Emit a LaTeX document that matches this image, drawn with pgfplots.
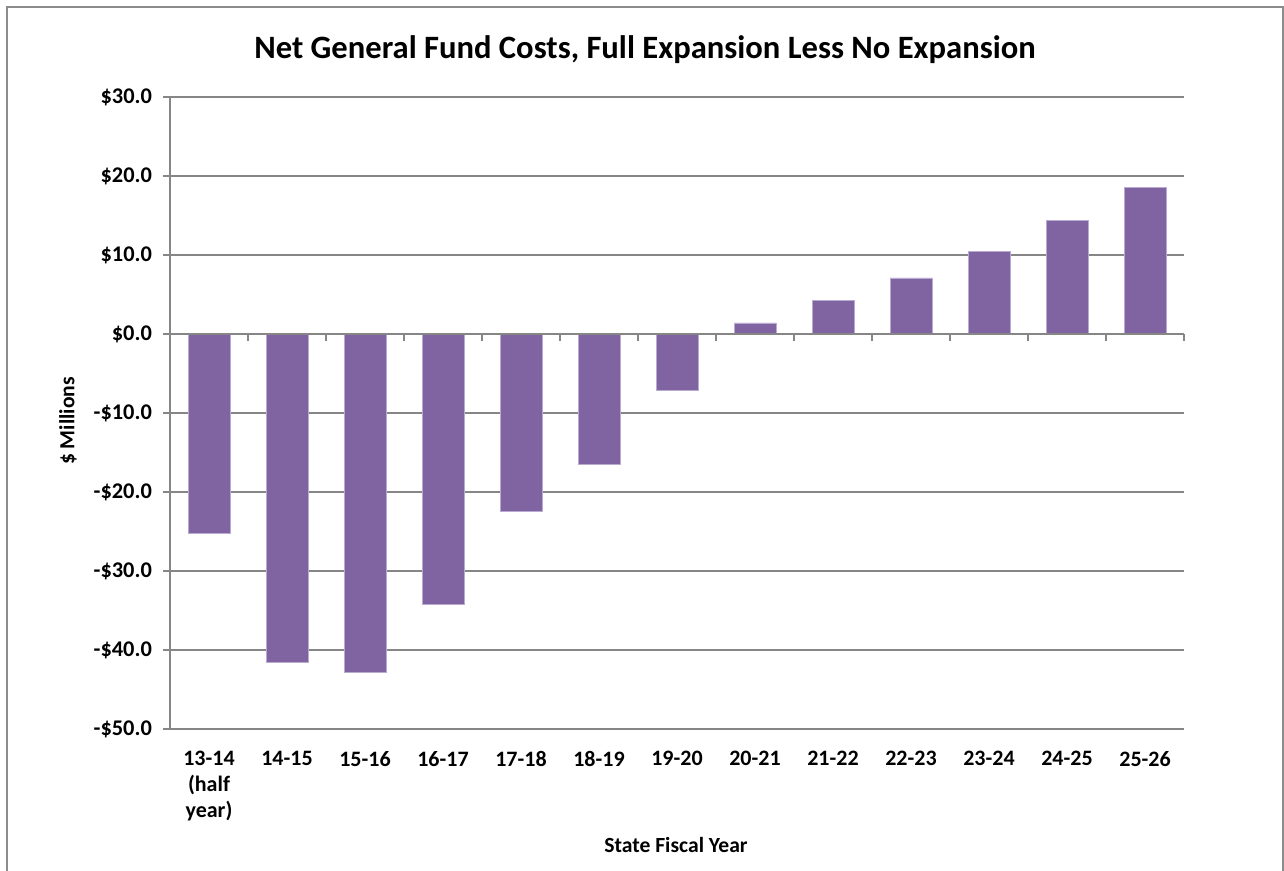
\documentclass[border=0pt]{standalone}
\usepackage{fontspec}
\setmainfont{Carlito}
\usepackage{pgfplots}
\pgfplotsset{compat=1.18}
\definecolor{barpurple}{RGB}{128,100,162}
\definecolor{baredge}{RGB}{185,170,210}
\definecolor{gridgray}{RGB}{134,134,134}
\definecolor{framegray}{RGB}{140,140,140}
\begin{document}
\begin{tikzpicture}[x=0.5pt,y=0.5pt]
\useasboundingbox (0,0) rectangle (1284,871);
\draw[framegray, line width=1.1pt] (7,-20) -- (7,864) -- (1283,864) -- (1283,-20);
\begin{axis}[
  at={(85pt,71pt)}, anchor=south west,
  scale only axis,
  width=507pt, height=316pt,
  xmin=-0.5, xmax=12.5,
  ymin=-50, ymax=30,
  ytick={-50,-40,...,30},
  yticklabels={-\$50.0,-\$40.0,-\$30.0,-\$20.0,-\$10.0,\$0.0,\$10.0,\$20.0,\$30.0},
  xtick={0,...,12},
  xticklabels={{13-14\\(half\\year)},14-15,15-16,16-17,17-18,18-19,19-20,20-21,21-22,22-23,23-24,24-25,25-26},
  x tick label style={align=center, font=\bfseries\fontsize{11}{13}\selectfont, yshift=-4pt},
  y tick label style={font=\bfseries\fontsize{11.2}{13}\selectfont, xshift=-2pt},
  axis x line*=bottom, axis y line*=left,
  axis line style={gridgray, line width=0.6pt},
  xtick style={draw=none},
  ytick style={gridgray, line width=0.6pt},
  tick align=outside,
  major tick length=3.5pt,
  ymajorgrids,
  major grid style={gridgray, line width=0.6pt},
  ybar, bar width=21pt,
  clip=false,
]
\addplot[fill=barpurple, draw=baredge, line width=0.4pt] coordinates {
(0,-25.2) (1,-41.6) (2,-42.8) (3,-34.2) (4,-22.4) (5,-16.5) (6,-7.1)
(7,1.4) (8,4.2) (9,7.1) (10,10.5) (11,14.4) (12,18.5)};
\draw[gridgray, line width=0.6pt] (axis cs:-0.5,0) -- (axis cs:12.5,0);
\pgfplotsinvokeforeach{-0.5,0.5,1.5,2.5,3.5,4.5,5.5,6.5,7.5,8.5,9.5,10.5,11.5,12.5}{
  \draw[gridgray, line width=0.6pt] (axis cs:#1,0) -- ++(0pt,-3.5pt);
}
\end{axis}
\node[font=\bfseries\fontsize{16.3}{20}\selectfont] at (645,821) {Net General Fund Costs, Full Expansion Less No Expansion};
\node[font=\bfseries\fontsize{10.8}{12}\selectfont, rotate=90] at (68,450) {\$ Millions};
\node[font=\bfseries\fontsize{10.8}{12}\selectfont] at (676,26) {State Fiscal Year};
\end{tikzpicture}
\end{document}
